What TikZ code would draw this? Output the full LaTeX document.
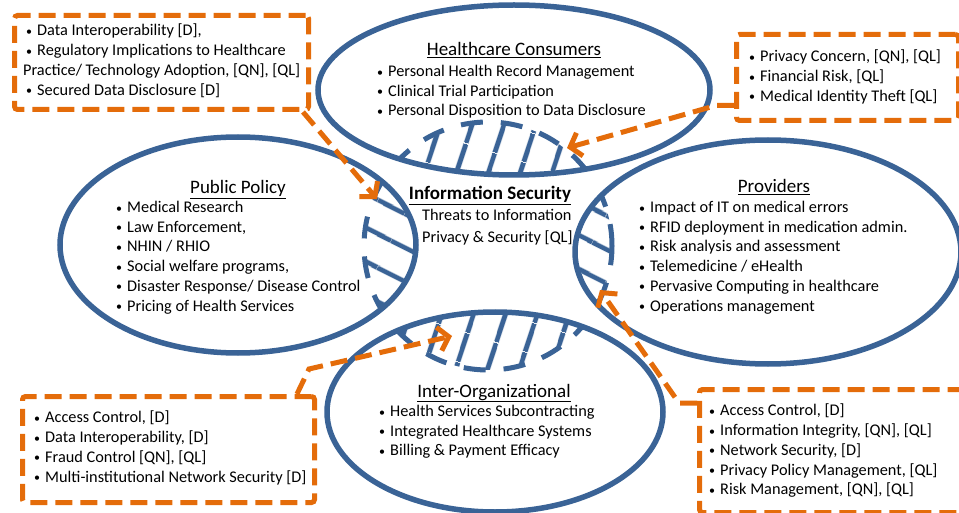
\documentclass[tikz,border=0pt]{standalone}
\usepackage{fontspec}
\setmainfont{Carlito}
\usetikzlibrary{arrows.meta,patterns.meta}

\definecolor{ringblue}{RGB}{58,99,150}
\definecolor{noteorange}{RGB}{228,108,10}
\newcommand{\itm}{\makebox[11pt][l]{\raisebox{0.5pt}{\fontsize{12}{12}\selectfont\textbullet}}}

\tikzset{
    realm/.style={draw=ringblue,line width=5.5pt},
    hatch/.style={pattern={Lines[angle=#1,distance=30pt,line width=5pt]},pattern color=ringblue,
        draw=ringblue,line width=5pt,dash pattern=on 22pt off 18pt},
    notebox/.style={draw=noteorange,line width=5pt,dash pattern=on 17pt off 8pt,rounded corners=3pt,
        inner sep=0pt,anchor=north west},
    body/.style={align=left,inner sep=0pt,anchor=north west,font=\fontsize{16.3}{19.7}\selectfont,
        execute at begin node=\rule{0pt}{12pt}},
    heading/.style={inner sep=0pt,anchor=base,font=\fontsize{19}{22}\selectfont},
    link/.style={draw=noteorange,line width=5pt,dash pattern=on 17pt off 8pt,
        -{Straight Barb[length=10pt,width=24pt,line width=5pt]}}
}

\begin{document}
\begin{tikzpicture}[x=1pt,y=-1pt]
    \useasboundingbox (0,0) rectangle (959,513);

    \fill[white] (514,90) ellipse [x radius=196pt,y radius=85pt];
    \fill[white] (238,245) ellipse [x radius=178pt,y radius=108pt];
    \fill[white] (768,252) ellipse [x radius=193pt,y radius=112pt];
    \fill[white] (495,412) ellipse [x radius=168pt,y radius=100pt];

    \begin{scope}
        \clip (514,90) ellipse [x radius=196pt,y radius=85pt];
        \path[hatch=72] (488,246) circle [radius=124pt];
    \end{scope}
    \begin{scope}
        \clip (238,245) ellipse [x radius=178pt,y radius=108pt];
        \path[hatch=-27] (488,246) circle [radius=124pt];
    \end{scope}
    \begin{scope}
        \clip (768,252) ellipse [x radius=193pt,y radius=112pt];
        \path[hatch=-27] (488,246) circle [radius=124pt];
    \end{scope}
    \begin{scope}
        \clip (495,412) ellipse [x radius=168pt,y radius=100pt];
        \path[hatch=72] (488,246) circle [radius=124pt];
    \end{scope}

    \draw[realm] (514,90) ellipse [x radius=196pt,y radius=85pt];
    \draw[realm] (238,245) ellipse [x radius=178pt,y radius=108pt];
    \draw[realm] (768,252) ellipse [x radius=193pt,y radius=112pt];
    \draw[realm] (495,412) ellipse [x radius=168pt,y radius=100pt];

    \node[heading] (consumers) at (514,56) {\underline{Healthcare Consumers}};
    \node[body] (consumerlist) at (377,65) {\itm Personal Health Record Management\\
        \itm Clinical Trial Participation\\
        \itm Personal Disposition to Data Disclosure};

    \node[heading] (policy) at (238,194) {\underline{Public Policy}};
    \node[body] (policylist) at (116,201) {\itm Medical Research\\
        \itm Law Enforcement,\\
        \itm NHIN / RHIO\\
        \itm Social welfare programs,\\
        \itm Disaster Response/ Disease Control\\
        \itm Pricing of Health Services};

    \node[heading] (providers) at (774,193) {\underline{Providers}};
    \node[body] (providerlist) at (639,201) {\itm Impact of IT on medical errors\\
        \itm RFID deployment in medication admin.\\
        \itm Risk analysis and assessment\\
        \itm Telemedicine / eHealth\\
        \itm Pervasive Computing in healthcare\\
        \itm Operations management};

    \node[heading] (interorg) at (494,397) {\underline{Inter-Organizational}};
    \node[body] (interorglist) at (379,405) {\itm Health Services Subcontracting\\
        \itm Integrated Healthcare Systems\\
        \itm Billing \& Payment Efficacy};

    \node[heading,font=\fontsize{19}{22}\selectfont\bfseries] (security) at (490,200) {\underline{Information Security}};
    \node[body,font=\fontsize{16.3}{22}\selectfont] (threats) at (422,209) {Threats to Information\\Privacy \& Security [QL]};

    \node[notebox,minimum width=294pt,minimum height=94pt] (tlbox) at (12,13) {};
    \node[body] (tltext) at (23,24) {\hspace*{3pt}\itm Data Interoperability [D],\\
        \hspace*{3pt}\itm Regulatory Implications to Healthcare\\
        Practice/ Technology Adoption, [QN], [QL]\\
        \hspace*{3pt}\itm Secured Data Disclosure [D]};

    \node[notebox,minimum width=222pt,minimum height=86pt] (trbox) at (734,32) {};
    \node[body] (trtext) at (749,50) {\itm Privacy Concern, [QN], [QL]\\
        \itm Financial Risk, [QL]\\
        \itm Medical Identity Theft [QL]};

    \node[notebox,minimum width=292pt,minimum height=106pt] (blbox) at (20,394) {};
    \node[body] (bltext) at (34,411) {\itm Access Control, [D]\\
        \itm Data Interoperability, [D]\\
        \itm Fraud Control [QN], [QL]\\
        \itm Multi-institutional Network Security [D]};

    \node[notebox,minimum width=268pt,minimum height=123pt] (brbox) at (697,387) {};
    \node[body] (brtext) at (709,404) {\itm Access Control, [D]\\
        \itm Information Integrity, [QN], [QL]\\
        \itm Network Security, [D]\\
        \itm Privacy Policy Management, [QL]\\
        \itm Risk Management, [QN], [QL]};

    \coordinate (policyhit) at (377,199);
    \coordinate (consumerhit) at (567,148);
    \coordinate (interorghit) at (452,336);
    \coordinate (providerhit) at (600,290);

    \draw[link] ([xshift=-8pt]tlbox.south east) -- (policyhit);
    \draw[link] ([yshift=-28pt]trbox.west) -- ++(-18,0) -- (consumerhit);
    \draw[link] ([xshift=-20pt]blbox.north east) -- ++(12,-25) -- (interorghit);
    \draw[link] ([yshift=48pt]brbox.west) -- ++(-18,0) -- (providerhit);
\end{tikzpicture}
\end{document}
